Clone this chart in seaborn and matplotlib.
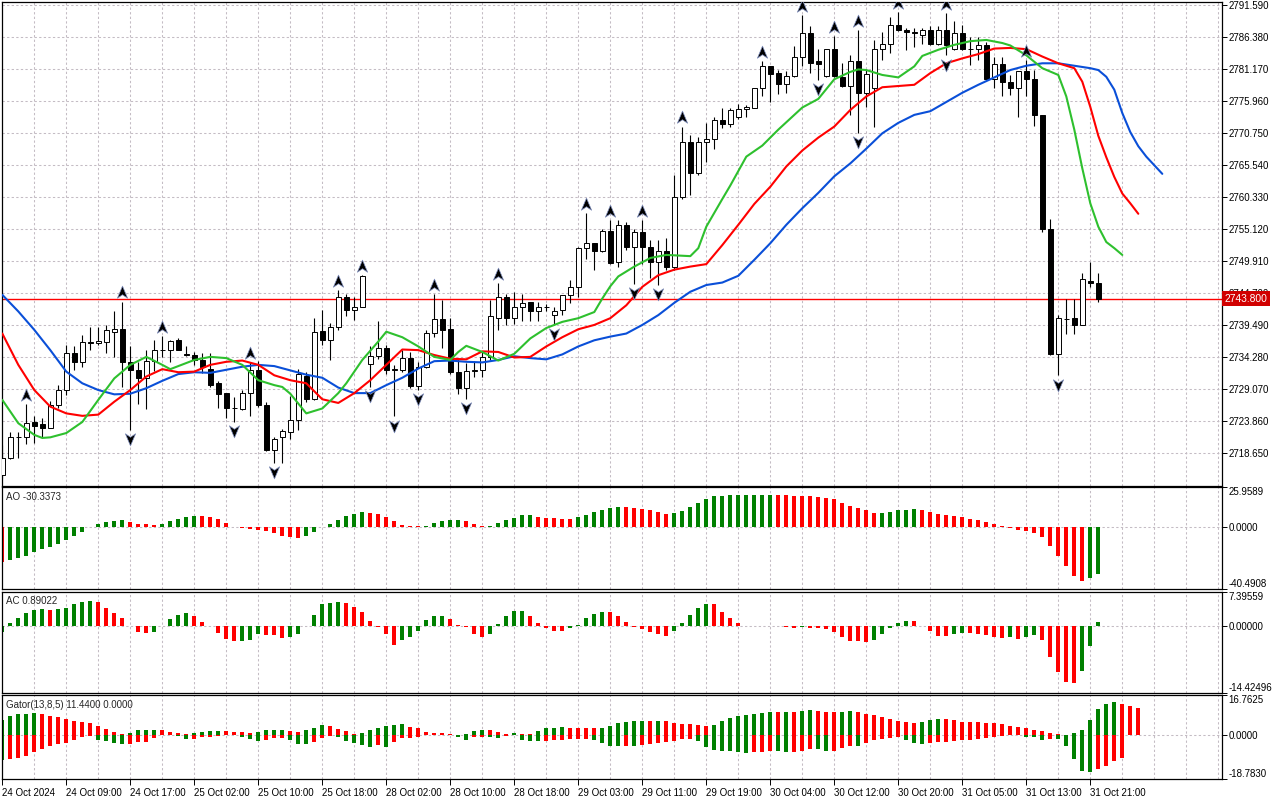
import numpy as np
import pandas as pd
import matplotlib
matplotlib.use("Agg")
import matplotlib.pyplot as plt
import matplotlib.transforms as mtrans
from matplotlib.path import Path
import seaborn as sns

# ---------------- data ----------------
opens = [2715.1, 2717.9, 2721.2, 2721.3, 2723.7, 2723.3, 2722.8, 2726.4, 2728.9, 2735.0,
         2733.5, 2736.7, 2736.5, 2736.7, 2738.4, 2738.9, 2733.5, 2732.2, 2730.9, 2733.6,
         2735.4, 2735.4, 2737.0, 2734.8, 2734.6, 2733.8, 2732.4, 2730.1, 2728.4, 2725.9,
         2725.8, 2728.5, 2732.2, 2726.5, 2719.2, 2721.2, 2722.1, 2724.1, 2731.2, 2727.5,
         2738.5, 2737.0, 2739.2, 2744.1, 2742.0, 2742.5, 2733.2, 2734.4, 2735.7, 2732.2,
         2732.2, 2734.1, 2729.5, 2732.7, 2738.2, 2740.4, 2738.8, 2731.9, 2729.2, 2732.0,
         2732.1, 2734.3, 2740.7, 2744.1, 2740.6, 2742.5, 2743.2, 2741.8, 2742.4, 2741.1,
         2742.0, 2744.3, 2745.6, 2752.0, 2752.9, 2751.6, 2754.8, 2749.8, 2755.7, 2752.2,
         2754.6, 2752.2, 2749.8, 2751.6, 2749.0, 2760.4, 2769.3, 2764.2, 2769.3, 2769.7,
         2772.8, 2772.2, 2773.4, 2774.6, 2774.9, 2778.0, 2781.7, 2780.6, 2778.8, 2780.1,
         2783.1, 2787.1, 2782.4, 2780.0, 2784.5, 2779.9, 2778.4, 2782.4, 2777.3, 2778.1,
         2784.5, 2785.3, 2788.4, 2787.6, 2787.2, 2786.7, 2787.5, 2785.3, 2787.5, 2784.5,
         2787.0, 2784.5, 2784.4, 2785.1, 2779.6, 2782.0, 2779.1, 2778.0, 2780.9, 2779.5,
         2773.7, 2755.2, 2734.8, 2740.5, 2740.6, 2739.5, 2746.7, 2746.4]
highs = [2720.0, 2722.0, 2722.0, 2726.6, 2724.6, 2724.3, 2727.1, 2729.7, 2736.3, 2736.0,
         2737.9, 2739.2, 2739.1, 2739.5, 2741.7, 2743.3, 2736.0, 2733.5, 2735.4, 2737.0,
         2737.7, 2737.1, 2737.3, 2736.1, 2735.1, 2735.0, 2735.0, 2730.3, 2728.4, 2727.8,
         2728.9, 2733.5, 2733.6, 2727.0, 2721.3, 2722.6, 2728.0, 2732.4, 2731.9, 2740.6,
         2742.0, 2739.8, 2745.2, 2744.6, 2744.1, 2747.6, 2736.0, 2740.2, 2736.2, 2733.0,
         2735.4, 2735.1, 2733.5, 2738.7, 2744.5, 2743.6, 2740.7, 2733.9, 2733.3, 2733.7,
         2735.1, 2743.6, 2746.3, 2744.5, 2744.9, 2744.6, 2743.3, 2743.2, 2742.9, 2742.5,
         2744.4, 2746.8, 2752.2, 2757.7, 2752.9, 2755.1, 2756.6, 2756.6, 2756.3, 2755.1,
         2756.6, 2753.3, 2753.3, 2753.6, 2763.9, 2771.8, 2770.4, 2770.1, 2772.4, 2773.4,
         2774.8, 2774.8, 2775.5, 2775.3, 2778.0, 2782.4, 2781.7, 2781.0, 2780.8, 2784.9,
         2790.0, 2788.1, 2784.5, 2784.5, 2786.5, 2782.1, 2783.4, 2787.5, 2781.1, 2785.9,
         2787.2, 2789.7, 2790.4, 2787.9, 2787.8, 2787.8, 2788.1, 2788.1, 2790.3, 2789.0,
         2788.3, 2786.4, 2786.4, 2785.6, 2783.2, 2783.1, 2780.2, 2780.9, 2782.6, 2781.0,
         2773.7, 2756.8, 2741.1, 2743.7, 2743.7, 2747.9, 2749.8, 2748.0]
lows = [2714.5, 2717.6, 2717.8, 2720.1, 2720.3, 2721.3, 2722.7, 2726.0, 2728.1, 2732.2,
        2732.7, 2735.4, 2736.2, 2735.0, 2734.2, 2729.4, 2722.4, 2726.6, 2725.8, 2732.0,
        2734.2, 2733.4, 2735.4, 2734.4, 2733.0, 2731.6, 2729.4, 2725.9, 2724.3, 2723.75,
        2725.6, 2724.7, 2726.2, 2718.9, 2717.0, 2717.1, 2721.0, 2722.4, 2727.0, 2727.2,
        2736.2, 2733.8, 2738.7, 2741.0, 2740.3, 2742.4, 2729.4, 2734.0, 2731.5, 2724.6,
        2731.8, 2729.3, 2728.9, 2732.5, 2737.6, 2735.7, 2731.5, 2728.3, 2727.5, 2731.1,
        2731.1, 2733.8, 2738.7, 2739.5, 2739.6, 2740.2, 2740.2, 2740.2, 2741.7, 2739.5,
        2741.1, 2743.0, 2744.0, 2750.3, 2748.5, 2751.3, 2749.5, 2748.9, 2751.7, 2746.2,
        2749.5, 2747.1, 2746.0, 2748.5, 2748.5, 2760.0, 2760.7, 2763.9, 2766.1, 2768.1,
        2771.5, 2771.7, 2773.0, 2773.3, 2774.8, 2776.8, 2775.8, 2777.1, 2777.3, 2779.8,
        2781.7, 2780.5, 2779.4, 2779.9, 2779.8, 2778.2, 2773.7, 2770.8, 2775.0, 2771.8,
        2782.7, 2783.8, 2787.4, 2784.3, 2784.8, 2785.3, 2785.1, 2785.1, 2783.4, 2784.3,
        2784.3, 2781.8, 2782.6, 2779.5, 2778.0, 2776.8, 2776.9, 2773.3, 2776.7, 2771.9,
        2754.7, 2734.6, 2731.3, 2738.0, 2738.1, 2739.5, 2745.6, 2743.3]
closes = [2717.9, 2721.2, 2721.3, 2723.6, 2723.1, 2722.8, 2726.4, 2728.9, 2735.0, 2733.4,
          2736.7, 2736.5, 2736.9, 2738.7, 2738.9, 2733.5, 2732.2, 2730.9, 2733.7, 2735.4,
          2735.4, 2736.9, 2735.5, 2734.6, 2733.8, 2732.7, 2729.7, 2728.3, 2725.9, 2725.9,
          2728.5, 2732.2, 2726.4, 2719.1, 2721.0, 2722.2, 2724.1, 2731.5, 2727.5, 2738.4,
          2737.0, 2739.2, 2744.1, 2742.0, 2742.5, 2747.4, 2734.4, 2735.7, 2732.2, 2732.3,
          2734.1, 2729.5, 2732.7, 2738.2, 2740.4, 2738.7, 2731.9, 2729.2, 2732.0, 2732.1,
          2734.3, 2740.9, 2744.1, 2740.6, 2742.5, 2743.0, 2741.8, 2742.4, 2742.4, 2741.8,
          2744.3, 2745.6, 2752.0, 2752.8, 2751.6, 2754.8, 2749.6, 2755.7, 2752.2, 2754.6,
          2752.2, 2749.8, 2751.6, 2749.0, 2760.4, 2769.3, 2764.2, 2769.3, 2769.7, 2772.8,
          2772.2, 2774.5, 2774.6, 2775.0, 2778.0, 2781.7, 2780.4, 2778.8, 2780.1, 2783.1,
          2787.0, 2782.1, 2782.0, 2784.5, 2780.0, 2778.4, 2782.4, 2777.3, 2780.4, 2784.4,
          2785.3, 2788.4, 2787.6, 2787.2, 2787.1, 2787.5, 2785.3, 2787.6, 2785.1, 2787.1,
          2784.5, 2784.5, 2785.1, 2779.6, 2782.0, 2779.1, 2778.0, 2780.9, 2779.5, 2773.7,
          2755.2, 2734.8, 2740.6, 2740.5, 2739.5, 2746.9, 2746.4, 2743.8]

fractal_up = [3, 15, 20, 31, 42, 45, 54, 62, 73, 76, 80, 85, 95, 100, 104, 107, 112, 118, 128]
fractal_down = [16, 29, 34, 46, 49, 52, 58, 69, 79, 82, 102, 107, 118, 132]

jaw_idx = [0, 2, 4, 6, 8, 10, 12, 14, 16, 18, 20, 22, 24, 26, 28, 30, 32, 34, 36, 38, 40,
           42, 44, 46, 48, 50, 52, 54, 56, 58, 60, 62, 64, 66, 68, 70, 72, 74, 76, 78, 80,
           82, 84, 86, 88, 90, 92, 94, 96, 98, 100, 102, 104, 106, 108, 110, 112, 114, 116,
           118, 120, 122, 124, 126, 128, 130, 132, 134, 136, 137, 138, 139, 140, 141, 142,
           143, 144, 145]
jaw_val = [2744.4, 2741.7, 2738.7, 2735.4, 2731.9, 2730.0, 2728.9, 2728.2, 2728.3, 2729.2,
           2730.4, 2731.5, 2731.8, 2731.7, 2732.2, 2732.7, 2733.0, 2732.8, 2732.1, 2731.4,
           2730.9, 2729.3, 2728.4, 2728.4, 2729.7, 2730.9, 2732.4, 2733.6, 2733.7, 2733.5,
           2733.4, 2733.8, 2734.4, 2734.1, 2733.9, 2734.7, 2736.0, 2737.0, 2737.6, 2738.1,
           2739.5, 2741.1, 2743.1, 2744.9, 2746.0, 2746.4, 2747.5, 2750.1, 2752.8, 2755.8,
           2758.5, 2761.0, 2763.7, 2765.8, 2768.2, 2770.7, 2772.4, 2773.7, 2774.3, 2775.8,
           2777.3, 2778.6, 2779.8, 2781.0, 2781.7, 2782.1, 2782.1, 2781.7, 2781.3, 2781.0,
           2779.9, 2777.8, 2774.0, 2770.9, 2768.6, 2766.9, 2765.5, 2764.1]

teeth_idx = [0, 2, 4, 6, 8, 10, 12, 14, 16, 18, 20, 22, 24, 26, 28, 30, 32, 34, 36, 38, 40,
             42, 44, 46, 48, 50, 52, 54, 56, 58, 60, 62, 64, 66, 68, 70, 72, 74, 76, 78, 80,
             82, 84, 86, 88, 90, 92, 94, 96, 98, 100, 102, 104, 106, 108, 110, 112, 114, 116,
             118, 120, 122, 124, 126, 128, 130, 132, 134, 135, 136, 137, 138, 139, 140, 141, 142]
teeth_val = [2738.1, 2733.0, 2728.9, 2726.2, 2725.1, 2724.7, 2724.9, 2727.0, 2728.9, 2731.1,
             2732.3, 2731.8, 2731.9, 2733.0, 2733.5, 2733.7, 2733.0, 2731.3, 2730.5, 2730.0,
             2727.4, 2726.8, 2728.4, 2730.5, 2733.0, 2735.5, 2735.4, 2734.6, 2734.0, 2733.9,
             2735.2, 2735.1, 2734.2, 2734.3, 2736.0, 2737.5, 2738.8, 2739.5, 2740.6, 2742.7,
             2745.7, 2747.6, 2748.5, 2749.0, 2749.4, 2752.5, 2755.8, 2759.2, 2762.0, 2765.3,
             2767.9, 2770.0, 2771.8, 2774.5, 2776.7, 2778.2, 2778.4, 2778.6, 2780.5, 2782.1,
             2782.9, 2783.6, 2784.5, 2784.6, 2784.4, 2783.2, 2782.1, 2781.3, 2779.1, 2775.0,
             2770.3, 2766.8, 2763.6, 2760.9, 2759.3, 2757.6]

lips_idx = [0, 2, 4, 5, 6, 8, 10, 12, 14, 16, 18, 20, 21, 22, 24, 26, 28, 30, 32, 34, 35,
            36, 37, 38, 40, 42, 43, 45, 47, 48, 50, 52, 54, 56, 57, 58, 60, 62, 64, 66, 68,
            70, 72, 74, 75, 76, 77, 79, 81, 83, 86, 87, 88, 90, 91, 93, 95, 97, 100, 102, 104,
            106, 107, 108, 110, 112, 114, 115, 117, 119, 121, 123, 125, 126, 128, 130, 132,
            133, 134, 135, 136, 137, 138, 139, 140]
lips_val = [2727.3, 2723.5, 2721.6, 2721.1, 2721.2, 2721.9, 2723.7, 2727.3, 2730.8, 2733.0,
            2734.3, 2733.0, 2732.3, 2732.8, 2733.8, 2734.3, 2734.1, 2733.0, 2730.5, 2729.7,
            2729.4, 2728.3, 2726.7, 2725.1, 2725.9, 2728.4, 2730.0, 2733.8, 2736.8, 2738.4,
            2737.5, 2736.0, 2734.3, 2733.8, 2735.1, 2736.1, 2735.1, 2733.7, 2734.8, 2737.3,
            2739.0, 2740.0, 2740.6, 2741.6, 2743.8, 2745.8, 2747.4, 2749.0, 2750.4, 2750.9,
            2750.7, 2752.0, 2755.5, 2760.0, 2762.2, 2766.9, 2768.7, 2771.3, 2774.9, 2776.3,
            2779.5, 2780.7, 2781.1, 2781.0, 2780.2, 2779.8, 2781.6, 2783.3, 2784.3, 2785.1,
            2785.7, 2785.9, 2785.4, 2785.0, 2783.4, 2781.3, 2780.2, 2776.7, 2771.3, 2765.0,
            2759.3, 2755.5, 2753.0, 2752.0, 2750.9]

ao = [-23.0, -21.8, -20.3, -18.6, -16.6, -14.2, -13.4, -11.4, -8.8, -6.2,
      -3.4, -0.3, 1.6, 2.9, 3.8, 4.2, 2.9, 2.1, 1.6, 1.0,
      1.6, 3.6, 5.1, 6.4, 6.8, 6.7, 6.2, 4.9, 2.3, -0.1,
      -0.8, -1.4, -2.3, -2.9, -4.0, -6.2, -6.6, -7.3, -6.2, -3.4,
      0.1, 1.6, 4.7, 6.8, 8.2, 9.5, 8.8, 8.2, 6.2, 3.8,
      1.2, 0.7, 0.2, 0.4, 2.3, 3.8, 4.3, 4.4, 3.6, 1.6,
      0.3, 0.5, 2.3, 4.2, 5.5, 7.4, 7.5, 6.6, 5.9, 5.5,
      5.1, 5.0, 6.1, 7.5, 9.5, 10.8, 12.1, 12.7, 12.6, 12.1,
      11.4, 10.8, 9.5, 8.2, 8.8, 10.1, 12.7, 15.3, 17.9, 19.9,
      20.0, 20.5, 20.6, 20.7, 20.8, 20.85, 20.9, 20.8, 20.7, 20.0,
      19.9, 19.8, 19.2, 18.6, 17.9, 15.3, 13.2, 12.1, 10.8, 8.8,
      8.9, 9.5, 10.8, 10.9, 11.4, 10.8, 9.5, 8.2, 7.5, 6.8,
      6.2, 5.1, 4.2, 2.9, 1.6, 0.3, -0.5, -2.1, -2.7, -4.0,
      -6.6, -12.7, -19.2, -25.5, -32.1, -34.9, -33.4, -30.3373]

ac = [-1.3, 0.6, 1.8, 2.9, 3.6, 3.7, 3.6, 3.7, 3.9, 4.9,
      5.2, 5.4, 5.2, 3.9, 2.9, 1.8, -0.05, -1.2, -1.4, -1.2,
      0.1, 1.6, 2.5, 2.9, 2.2, 0.9, -0.05, -1.4, -2.8, -3.3,
      -3.2, -2.9, -1.8, -1.85, -1.9, -2.5, -2.3, -1.6, 0.05, 2.4,
      4.7, 5.0, 5.2, 5.0, 4.1, 3.1, 1.2, -0.1, -1.8, -4.1,
      -2.9, -2.4, -1.1, 1.4, 2.2, 2.25, 1.6, 0.3, -0.1, -1.6,
      -2.4, -1.6, 0.5, 2.2, 3.3, 3.35, 2.2, 0.7, -0.5, -1.1,
      -1.15, -0.5, 0.3, 1.8, 2.7, 3.1, 3.05, 2.2, 0.9, -0.1,
      -0.6, -1.2, -1.6, -2.1, -1.0, 0.7, 2.4, 3.9, 4.8, 4.75,
      3.1, 1.8, 0.7, -0.05, 0.0, 0.05, 0.1, 0.0, -0.1, -0.3,
      -0.2, -0.3, -0.5, -0.7, -1.2, -2.4, -3.3, -3.32, -3.35, -3.1,
      -1.8, -0.3, 0.7, 1.15, 1.1, 0.0, -1.0, -2.1, -2.15, -1.6,
      -1.4, -1.55, -1.6, -1.85, -2.3, -2.5, -2.45, -2.7, -2.3, -1.85,
      -3.1, -6.6, -10.0, -12.1, -12.4, -9.8, -4.2, 0.89022]

gator_up = [6.3, 7.8, 8.6, 8.9, 9.3, 8.9, 8.0, 7.6, 6.8, 5.9,
            5.5, 5.1, 3.8, 2.5, 1.3, 0.4, 0.85, 1.8, 2.1, 2.15,
            2.1, 1.3, 0.55, 0.5, 0.55, 1.3, 1.7, 1.75, 1.7, 1.3,
            1.0, 0.85, 1.3, 2.1, 2.15, 2.2, 1.7, 1.3, 2.1, 3.0,
            4.2, 3.8, 2.5, 1.7, 0.4, 0.85, 2.1, 3.0, 3.8, 4.2,
            4.6, 3.4, 3.0, 1.3, 0.85, 0.55, 0.4, 0.1, 0.2, 1.7,
            2.1, 2.0, 1.3, 0.4, 0.8, 0.4, 0.35, 1.7, 3.0, 3.05,
            3.1, 3.0, 2.95, 2.9, 2.85, 3.0, 3.8, 5.1, 5.5, 5.9,
            5.95, 5.9, 5.95, 5.9, 5.1, 4.7, 4.65, 4.2, 3.8, 4.2,
            5.9, 7.2, 8.0, 8.5, 8.9, 9.3, 9.7, 9.65, 9.7, 9.65,
            10.2, 10.25, 10.2, 9.7, 9.65, 9.7, 10.2, 9.7, 8.9, 8.5,
            7.6, 6.8, 5.9, 5.5, 5.1, 5.5, 6.3, 6.8, 6.75, 6.3,
            5.5, 5.45, 5.4, 5.1, 5.05, 4.7, 3.8, 3.4, 3.0, 2.1,
            1.7, 0.85, 0.4, 0.1, 0.55, 2.1, 6.3, 11.0, 13.1, 14.0,
            13.1, 12.3, 11.44]
gator_down = [-10.6, -10.2, -9.7, -8.9, -7.2, -5.9, -4.7, -3.8, -3.4, -2.1,
              -0.8, -0.4, -2.1, -2.5, -3.4, -3.8, -3.75, -3.0, -2.9, -1.3,
              -0.2, -0.1, -0.7, -1.7, -1.6, -1.1, -1.05, -0.7, -0.3, -0.2,
              -0.85, -1.7, -2.5, -2.1, -1.3, -1.25, -2.1, -3.8, -3.85, -3.0,
              -1.3, -0.4, -0.85, -2.5, -3.4, -4.2, -5.1, -4.3, -5.0, -3.0,
              -1.3, -1.2, -0.8, -0.3, -0.2, -0.1, -0.05, -1.1, -2.1, -1.1,
              -0.9, -1.1, -1.2, -0.7, -0.3, -2.1, -2.5, -2.55, -2.5, -2.1,
              -2.05, -2.0, -1.7, -1.65, -2.1, -3.4, -4.7, -4.75, -4.6, -4.7,
              -4.2, -3.8, -3.4, -3.0, -2.5, -1.7, -1.65, -2.5, -5.1, -6.3,
              -6.8, -6.85, -7.2, -7.6, -7.2, -7.15, -6.8, -6.85, -7.2, -7.15,
              -6.8, -5.9, -5.95, -6.8, -6.75, -5.5, -4.7, -4.75, -3.4, -2.1,
              -2.0, -1.3, -1.1, -2.1, -3.4, -3.8, -3.4, -3.0, -2.95, -2.5,
              -2.1, -2.05, -1.7, -1.3, -0.85, -0.4, -0.15, -0.3, -0.85, -0.9,
              -2.1, -1.7, -1.75, -4.7, -10.2, -15.2, -15.7, -14.4, -13.1, -11.0,
              -9.6]

price_levels = [2718.65, 2723.86, 2729.07, 2734.28, 2739.49, 2744.70, 2749.91, 2755.12,
                2760.33, 2765.54, 2770.75, 2775.96, 2781.17, 2786.38, 2791.59]
last_price = 2743.80
date_labels = ['24 Oct 2024', '24 Oct 09:00', '24 Oct 17:00', '25 Oct 02:00', '25 Oct 10:00',
               '25 Oct 18:00', '28 Oct 02:00', '28 Oct 10:00', '28 Oct 18:00', '29 Oct 03:00',
               '29 Oct 11:00', '29 Oct 19:00', '30 Oct 04:00', '30 Oct 12:00', '30 Oct 20:00',
               '31 Oct 05:00', '31 Oct 13:00', '31 Oct 21:00']
ao_range = (-40.4908, 25.9589)
ac_range = (-14.42496, 7.39559)
gator_range = (-18.7830, 16.7625)
ao_ticks = ['-40.4908', '0.0000', '25.9589']
ac_ticks = ['-14.42496', '0.00000', '7.39559']
gator_ticks = ['-18.7830', '0.0000', '16.7625']
ao_title = 'AO -30.3373'
ac_title = 'AC 0.89022'
gator_title = 'Gator(13,8,5) 11.4400 0.0000'

# ---------------- style ----------------
sns.set_theme(style="white")
plt.rcParams['font.family'] = ['Liberation Sans', 'DejaVu Sans']
FS = 7.0
GREEN = '#008000'
RED = '#ff0000'
GRID = '#c4bcc4'
DASH = (0, (2.2, 2.2))

W, H = 1280, 800
fig = plt.figure(figsize=(W / 100, H / 100), dpi=100)
fig.patch.set_facecolor('white')

X0, X1 = 2.3, 1221.7
NBX = (X1 - X0) / 8.0


def px_axes(x0, y0, x1, y1):
    return fig.add_axes([x0 / W, 1 - y1 / H, (x1 - x0) / W, (y1 - y0) / H])


def style_axes(ax):
    ax.set_facecolor('white')
    for s in ax.spines.values():
        s.set_color('black')
        s.set_linewidth(0.9)
        s.set_visible(True)
    ax.set_xlim(0, NBX)
    ax.grid(False)
    for gx in range(4, int(NBX) + 1, 4):
        ax.axvline(gx, color=GRID, lw=0.75, ls=DASH, zorder=0.5)


def bar_colors(v, first, use_abs=False):
    a = np.abs(np.asarray(v)) if use_abs else np.asarray(v)
    cols = [first]
    for k in range(1, len(a)):
        cols.append(GREEN if a[k] > a[k - 1] else RED)
    return cols


# ---------------- main price panel ----------------
ax = px_axes(X0, 2.3, X1, 485.5)
style_axes(ax)
top = 2791.59 + (5 - 2.3) * 5.21 / 32
bot = 2791.59 - (485.5 - 5) * 5.21 / 32
ax.set_ylim(bot, top)
for lv in price_levels:
    ax.axhline(lv, color=GRID, lw=0.75, ls=DASH, zorder=0.5)

df = pd.DataFrame({'i': np.arange(len(opens)), 'open': opens, 'high': highs,
                   'low': lows, 'close': closes})
bull = df['close'] >= df['open']
ax.axhline(last_price, color='#ff0000', lw=1.0, zorder=1.5)
ax.vlines(df['i'], df['low'], df['high'], color='black', lw=0.8, zorder=3)
ax.bar(df['i'], (df['close'] - df['open']).abs(), bottom=np.minimum(df['open'], df['close']),
       width=0.62, color=np.where(bull, 'white', 'black'), edgecolor='black',
       linewidth=0.7, zorder=3.5)

sns.lineplot(x=jaw_idx, y=jaw_val, ax=ax, color='#0a4fd8', lw=1.5, zorder=4)
sns.lineplot(x=teeth_idx, y=teeth_val, ax=ax, color='#ff0000', lw=1.5, zorder=4)
sns.lineplot(x=lips_idx, y=lips_val, ax=ax, color='#2ec02e', lw=1.5, zorder=4)

up_m = Path([(0, 1), (0.8, -0.9), (0, -0.35), (-0.8, -0.9), (0, 1)],
            [Path.MOVETO, Path.LINETO, Path.LINETO, Path.LINETO, Path.CLOSEPOLY])
dn_m = Path([(0, -1), (0.8, 0.9), (0, 0.35), (-0.8, 0.9), (0, -1)],
            [Path.MOVETO, Path.LINETO, Path.LINETO, Path.LINETO, Path.CLOSEPOLY])
fu = df.loc[fractal_up]
fd = df.loc[fractal_down]
ax.scatter(fu['i'], fu['high'] + 1.5, marker=up_m, s=85, c='black', edgecolors='#8090c0',
           linewidths=0.5, zorder=5)
ax.scatter(fd['i'], fd['low'] - 1.5, marker=dn_m, s=85, c='black', edgecolors='#8090c0',
           linewidths=0.5, zorder=5)

ax.yaxis.tick_right()
ax.set_yticks(price_levels)
ax.set_yticklabels(['%.3f' % v for v in price_levels])
ax.tick_params(axis='y', right=True, length=3.5, width=0.7, color='black', pad=1.5,
               labelsize=FS, labelcolor='black')
ax.set_xticks([])
ax.set_xlabel('')
ax.set_ylabel('')
tr = mtrans.offset_copy(ax.get_yaxis_transform(), fig=fig, x=3.0, y=0, units='dots')
ax.text(1.0, last_price, '%.3f' % last_price, transform=tr, ha='left', va='center',
        fontsize=FS + 0.4, color='white', zorder=20, clip_on=False,
        bbox=dict(boxstyle='square,pad=0.22', fc='#d10000', ec='none'))


# ---------------- indicator panels ----------------
def sub_panel(y0, y1, yrange, ticklabels, title, title_y):
    a = px_axes(X0, y0, X1, y1)
    style_axes(a)
    a.set_ylim(*yrange)
    a.axhline(0, color=GRID, lw=0.75, ls=DASH, zorder=0.6)
    a.yaxis.tick_right()
    a.set_yticks([yrange[0], 0, yrange[1]])
    a.set_yticklabels(ticklabels)
    a.tick_params(axis='y', right=True, length=3.5, width=0.7, color='black', pad=1.5,
                  labelsize=FS, labelcolor='black')
    labs = a.get_yticklabels()
    labs[0].set_va('bottom')
    labs[2].set_va('top')
    a.set_xticks([])
    fig.text(5.5 / W, 1 - title_y / H, title, fontsize=FS, va='center', ha='left')
    return a


ax_ao = sub_panel(486.7, 589.3, ao_range, ao_ticks, ao_title, 496.5)
ax_ao.bar(np.arange(len(ao)), ao, width=0.5, color=bar_colors(ao, RED), linewidth=0, zorder=2)

ax_ac = sub_panel(592.0, 692.7, ac_range, ac_ticks, ac_title, 601.5)
ax_ac.bar(np.arange(len(ac)), ac, width=0.5, color=bar_colors(ac, GREEN), linewidth=0, zorder=2)

ax_g = sub_panel(695.0, 779.3, gator_range, gator_ticks, gator_title, 704.5)
ax_g.bar(np.arange(len(gator_up)), gator_up, width=0.5,
         color=bar_colors(gator_up, GREEN, True), linewidth=0, zorder=2)
ax_g.bar(np.arange(len(gator_down)), gator_down, width=0.5,
         color=bar_colors(gator_down, GREEN, True), linewidth=0, zorder=2)

date_pos = np.arange(len(date_labels)) * 8
ax_g.set_xticks(date_pos)
ax_g.set_xticklabels(date_labels, ha='left')
ax_g.tick_params(axis='x', bottom=True, length=4, width=0.7, color='black', pad=2,
                 labelsize=FS, labelcolor='black')

fig.savefig('out.png', dpi=100, facecolor='white')
